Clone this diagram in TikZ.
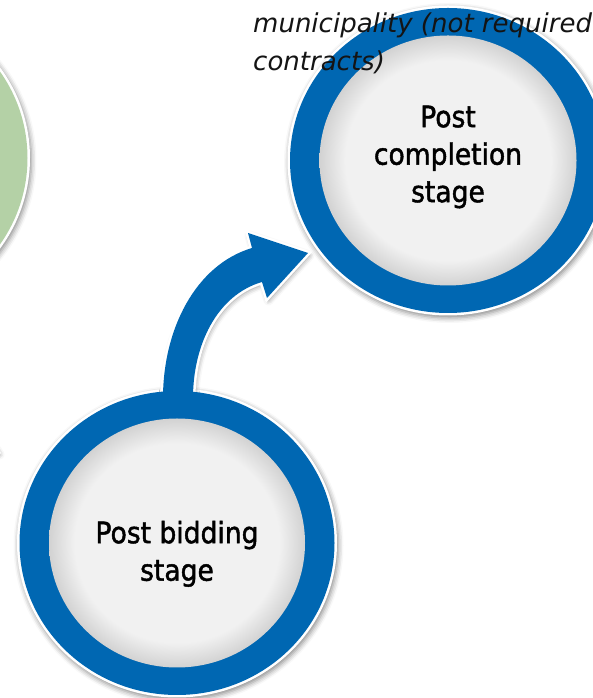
\documentclass[tikz,border=0pt]{standalone}
\usepackage{fontspec}
\setmainfont{DejaVu Sans}
\newfontfamily\stagefont[FakeStretch=0.9, FakeBold=1.5]{DejaVu Sans}
\usetikzlibrary{shadows.blur, shapes.geometric}

\definecolor{ringblue}{RGB}{0,103,178}
\definecolor{ringgreen}{RGB}{180,209,166}
\definecolor{diskin}{RGB}{241,241,241}
\definecolor{diskedge}{RGB}{210,210,210}

% light grey disk that darkens towards its rim
\pgfdeclareradialshading{diskfill}{\pgfpoint{0bp}{0bp}}{%
  color(0bp)=(diskin); color(20bp)=(diskin); color(25bp)=(diskedge); color(50bp)=(diskedge)}

\tikzset{
  softshadow/.style={blur shadow={shadow xshift=1.5pt, shadow yshift=-2.5pt,
      shadow blur radius=5pt, shadow opacity=45}},
  oval/.style 2 args={ellipse, inner sep=0pt, outer sep=0pt,
      minimum width=#1, minimum height=#2},
  rim/.style 2 args={oval={#1}{#2}, fill=white, softshadow},
  band/.style 2 args={oval={#1}{#2}},
  disk/.style 2 args={oval={#1}{#2}, shading=diskfill},
  stagetext/.style={align=center, inner sep=0pt, text=black,
      font=\stagefont\fontsize{29.5}{37.5}\selectfont},
  notetext/.style={align=left, inner sep=0pt, text=black!92,
      font=\fontsize{26}{38}\selectfont\itshape},
}

\begin{document}
\begin{tikzpicture}[x=1pt, y=1pt]
  \useasboundingbox (0,0) rectangle (593,698);
  \clip (0,0) rectangle (593,698);

  % green stage circle at the left
  \node[rim={322}{312}] (greenrim) at (-131,540) {};
  \node[band={317}{307}, fill=ringgreen] (greenband) at (greenrim) {};
  \node[disk={260}{252}] (greendisk) at (greenrim) {};

  % tip of the green connector coming in from the left
  \fill[ringgreen, preaction={draw=white, line width=4pt, softshadow}]
    (-2,246) -- (-20,274) -- (-48,238) -- cycle;

  % white rims with shadows of the two blue stages
  \node[rim={321}{310}] (toprim) at (448,537.5) {};
  \node[rim={320}{309}] (botrim) at (177,155) {};

  % curved block arrow from the post bidding stage to the post completion stage
  \fill[ringblue, preaction={draw=white, line width=5pt, line join=miter, softshadow}]
    (163,300) .. controls (163,368) and (195,433) .. (252,450)
    -- (248,465) -- (308,445) -- (267,400) -- (262,416)
    .. controls (217,403) and (193,353) .. (193,300) -- cycle;

  % blue bands and grey disks
  \node[band={315}{304}, fill=ringblue] (botband) at (botrim) {};
  \node[disk={256}{249}] (botdisk) at (botrim) {};
  \node[band={316}{305}, fill=ringblue] (topband) at (toprim) {};
  \node[disk={257}{250}] (topdisk) at (toprim) {};

  % stage labels
  \node[stagetext] (toplabel) at (448,541) {Post\\completion\\stage};
  \node[stagetext] (botlabel) at (177,144.2) {Post bidding\\stage};

  % note text running over the top circle
  \node[notetext, anchor=north west] (note) at (253,685.8)
    {municipality (not required\\contracts)};
\end{tikzpicture}
\end{document}
